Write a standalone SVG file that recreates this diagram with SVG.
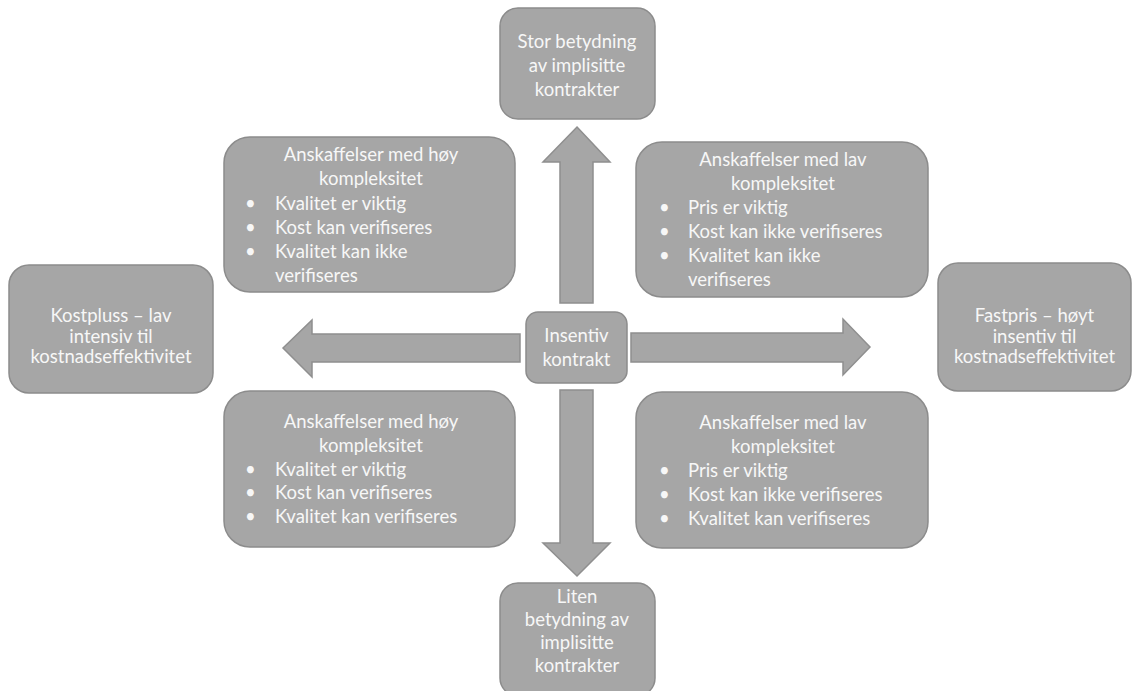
<svg xmlns="http://www.w3.org/2000/svg" width="1134" height="691" viewBox="0 0 1134 691">
<style>
.box{fill:#a6a6a6;stroke:#8c8c8c;stroke-width:1.5}
.arr{fill:#a6a6a6;stroke:#8f8f8f;stroke-width:1.5;stroke-linejoin:miter}
text{font-family:Lato,"Open Sans","Liberation Sans",sans-serif;font-size:18.5px;fill:#f7f7f7}
.c{text-anchor:middle}
</style>
<rect width="1134" height="691" fill="#ffffff"/>
<g id="connectors">
<polygon class="arr" points="577,127 610,162 593,162 593,303 560,303 560,162 543,162"/>
<polygon class="arr" points="283,348 312,320 312,334 520,334 520,362 312,362 312,377"/>
<polygon class="arr" points="870,347 843,319 843,333 631,333 631,362 843,362 843,375"/>
<polygon class="arr" points="577,576 610,543 593,543 593,390 560,390 560,543 543,543"/>
</g>
<g id="top">
<rect class="box" x="500" y="8" width="155" height="111" rx="18"/>
<text class="c" x="577" y="48">Stor betydning</text>
<text class="c" x="577" y="72">av implisitte</text>
<text class="c" x="577" y="96">kontrakter</text>
</g>
<g id="topleft">
<rect class="box" x="224" y="137" width="291" height="155" rx="26"/>
<text class="c" x="371" y="161">Anskaffelser med høy</text>
<text class="c" x="371" y="185">kompleksitet</text>
<text x="245" y="210">•</text><text x="275" y="210">Kvalitet er viktig</text>
<text x="245" y="234">•</text><text x="275" y="234">Kost kan verifiseres</text>
<text x="245" y="258">•</text><text x="275" y="258">Kvalitet kan ikke</text>
<text x="275" y="282">verifiseres</text>
</g>
<g id="topright">
<rect class="box" x="636" y="142" width="292" height="155" rx="26"/>
<text class="c" x="783" y="166">Anskaffelser med lav</text>
<text class="c" x="783" y="190">kompleksitet</text>
<text x="659" y="214">•</text><text x="688" y="214">Pris er viktig</text>
<text x="659" y="238">•</text><text x="688" y="238">Kost kan ikke verifiseres</text>
<text x="659" y="262">•</text><text x="688" y="262">Kvalitet kan ikke</text>
<text x="688" y="286">verifiseres</text>
</g>
<g id="left">
<rect class="box" x="9" y="265" width="204" height="128" rx="20"/>
<text class="c" x="111" y="322">Kostpluss – lav</text>
<text class="c" x="111" y="343">intensiv til</text>
<text class="c" x="111" y="363">kostnadseffektivitet</text>
</g>
<g id="center">
<rect class="box" x="526" y="312" width="101" height="71" rx="12"/>
<text class="c" x="576.5" y="342">Insentiv</text>
<text class="c" x="576.5" y="366">kontrakt</text>
</g>
<g id="right">
<rect class="box" x="938" y="263" width="193" height="128" rx="20"/>
<text class="c" x="1034.5" y="322">Fastpris – høyt</text>
<text class="c" x="1034.5" y="343">insentiv til</text>
<text class="c" x="1034.5" y="363">kostnadseffektivitet</text>
</g>
<g id="bottomleft">
<rect class="box" x="224" y="391" width="291" height="156" rx="26"/>
<text class="c" x="371" y="428">Anskaffelser med høy</text>
<text class="c" x="371" y="452">kompleksitet</text>
<text x="245" y="476">•</text><text x="275" y="476">Kvalitet er viktig</text>
<text x="245" y="499">•</text><text x="275" y="499">Kost kan verifiseres</text>
<text x="245" y="523">•</text><text x="275" y="523">Kvalitet kan verifiseres</text>
</g>
<g id="bottomright">
<rect class="box" x="636" y="392" width="292" height="156" rx="26"/>
<text class="c" x="783" y="429">Anskaffelser med lav</text>
<text class="c" x="783" y="453">kompleksitet</text>
<text x="659" y="477">•</text><text x="688" y="477">Pris er viktig</text>
<text x="659" y="501">•</text><text x="688" y="501">Kost kan ikke verifiseres</text>
<text x="659" y="525">•</text><text x="688" y="525">Kvalitet kan verifiseres</text>
</g>
<g id="bottom">
<rect class="box" x="500" y="583" width="155" height="113" rx="18"/>
<text class="c" x="577" y="603">Liten</text>
<text class="c" x="577" y="626">betydning av</text>
<text class="c" x="577" y="649">implisitte</text>
<text class="c" x="577" y="672">kontrakter</text>
</g>
</svg>
